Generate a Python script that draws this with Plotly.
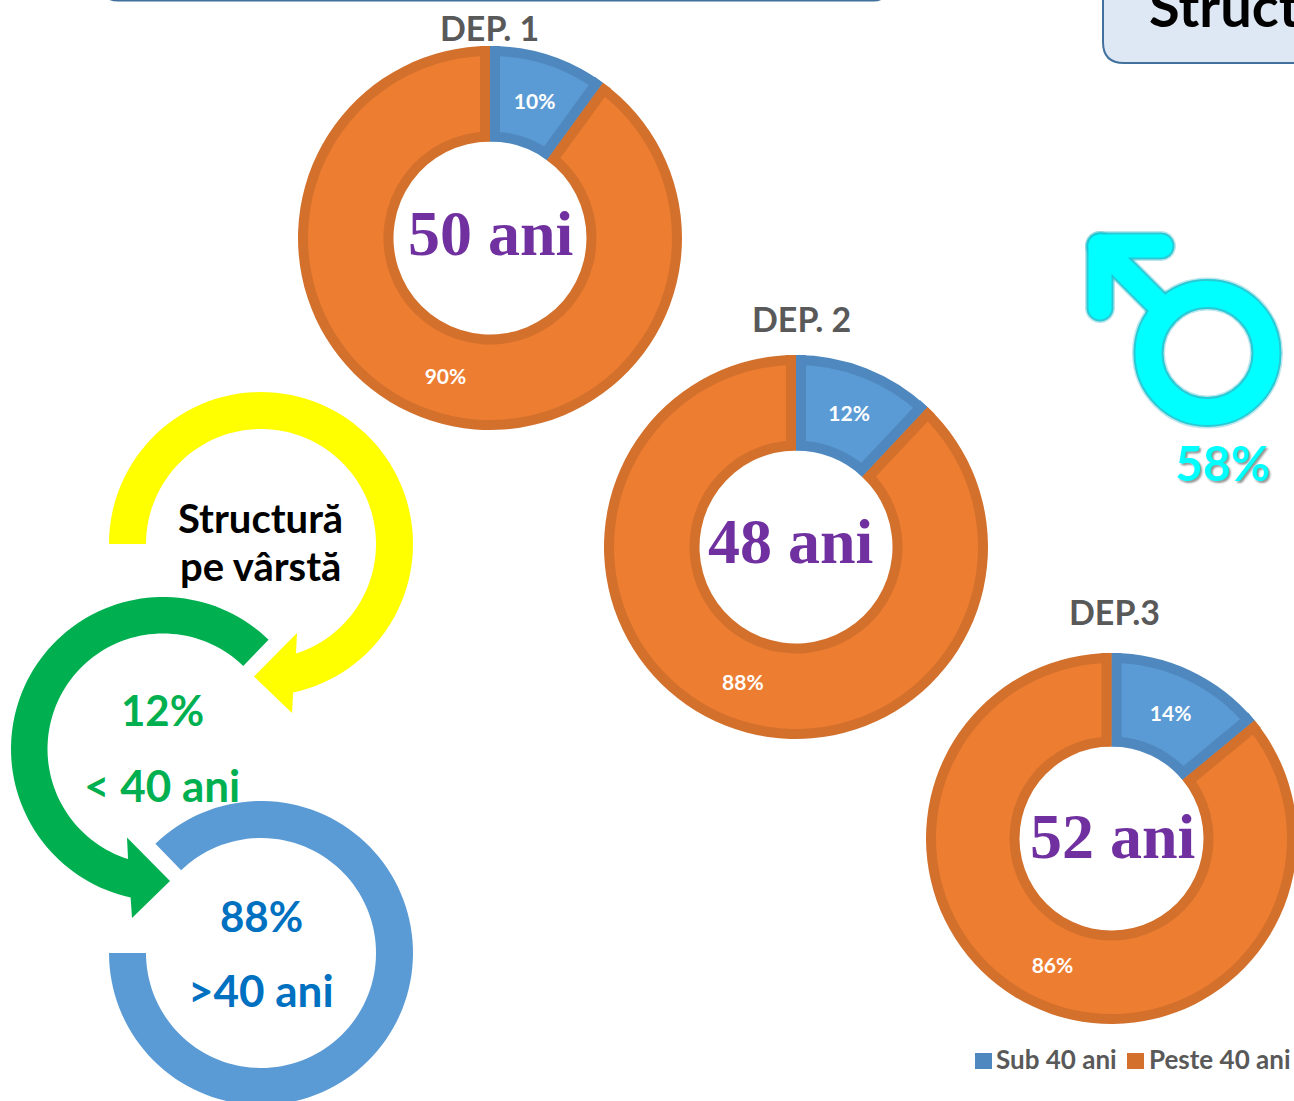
import numpy as np
import plotly.graph_objects as go

# ---------- data ----------
series_names = ["Sub 40 ani", "Peste 40 ani"]
dep_titles = ["DEP. 1", "DEP. 2", "DEP.3"]
dep1_values = [10, 90]
dep2_values = [12, 88]
dep3_values = [14, 86]
mean_ages = ["50 ani", "48 ani", "52 ani"]
age_under_text = ["12%", "< 40 ani"]
age_over_text = ["88%", ">40 ani"]
male_share = "58%"

# ---------- layout helpers (pixels of the page -> paper) ----------
W, H = 1298, 1101
def fx(x): return x / W
def fy(y): return 1 - y / H
def path(points):
    return "M" + "L".join(f"{fx(x):.5f},{fy(y):.5f}" for x, y in points) + "Z"
def polar(cx, cy, r, deg):
    t = np.radians(deg)
    return (cx + r * np.sin(t), cy - r * np.cos(t))
def arc(cx, cy, r, a0, a1, n=90):
    return [polar(cx, cy, r, a) for a in np.linspace(a0, a1, n)]

DARK = ["#4F88BE", "#D2702C"]
LIGHT = ["#5B9BD5", "#ED7D31"]
BORDER = 10
donuts = [
    dict(values=dep1_values, cx=490, cy=238, R=192, r=96.5, title=(489, 27), age=(490, 233.5)),
    dict(values=dep2_values, cx=796, cy=547, R=192, r=96.5, title=(801, 319), age=(790, 542)),
    dict(values=dep3_values, cx=1111.5, cy=838.5, R=185.5, r=92, title=(1114, 611), age=(1112, 836.5)),
]

fig = go.Figure()
shapes, notes = [], []

def text(x, y, s, size, color, family="Lato", bold=True, **font):
    notes.append(dict(x=fx(x), y=fy(y), xref="paper", yref="paper", text=f"<b>{s}</b>" if bold else s,
                      showarrow=False, xanchor="center", yanchor="middle",
                      font=dict(family=family, size=size, color=color, **font)))

for d in donuts:
    cx, cy, R, r = d["cx"], d["cy"], d["R"], d["r"]
    for rad, hole, cols, show in [(R, r / R, DARK, False),
                                  (R - BORDER, (r + BORDER) / (R - BORDER), LIGHT, True)]:
        fig.add_trace(go.Pie(
            labels=series_names, values=d["values"], sort=False, direction="clockwise", rotation=0,
            hole=hole, marker=dict(colors=cols, line=dict(width=0)),
            domain=dict(x=[fx(cx - rad), fx(cx + rad)], y=[fy(cy + rad), fy(cy - rad)]),
            textinfo="percent" if show else "none", textposition="inside",
            insidetextorientation="horizontal",
            insidetextfont=dict(family="Lato", size=21, color="white", weight="bold"),
            showlegend=False, hoverinfo="label+percent"))
    # constant-width inner border along the two radial edges of the slices
    edge = 360 * d["values"][0] / sum(d["values"])
    for a, side_cols in [(0, (DARK[0], DARK[1])), (edge, (DARK[1], DARK[0]))]:
        for sign, col in zip((1, -1), side_cols):
            t = np.radians(a)
            ox, oy = sign * np.cos(t) * BORDER / 2, sign * np.sin(t) * BORDER / 2
            p0 = polar(cx, cy, r, a); p1 = polar(cx, cy, R, a)
            shapes.append(dict(type="line", xref="paper", yref="paper", layer="above",
                               x0=fx(p0[0] + ox), y0=fy(p0[1] + oy), x1=fx(p1[0] + ox), y1=fy(p1[1] + oy),
                               line=dict(color=col, width=BORDER)))

for d, t, age in zip(donuts, dep_titles, mean_ages):
    text(d["title"][0], d["title"][1], t, 34, "#595959")
    text(d["age"][0], d["age"][1], age, 64, "#7030A0", family="Liberation Serif")

# ---------- top boxes ----------
BOX_FILL, BOX_LINE = "#DEE8F5", "#41719C"
shapes.append(dict(type="path", xref="paper", yref="paper", layer="below", fillcolor=BOX_FILL,
                   line=dict(color=BOX_LINE, width=2),
                   path=f"M{fx(1103)},{fy(-10)}L{fx(1103)},{fy(42)}Q{fx(1103)},{fy(63)} {fx(1124)},{fy(63)}L{fx(1320)},{fy(63)}L{fx(1320)},{fy(-10)}Z"))
shapes.append(dict(type="path", xref="paper", yref="paper", layer="below", fillcolor=BOX_FILL,
                   line=dict(color=BOX_LINE, width=2),
                   path=f"M{fx(103)},{fy(-6)}Q{fx(108)},{fy(0.5)} {fx(118)},{fy(0.5)}L{fx(874)},{fy(0.5)}Q{fx(882)},{fy(0.5)} {fx(887)},{fy(-6)}Z"))
text(1224, 6, "Struct", 56, "#000000")

# ---------- circular arrows ----------
def ring_shape(points, color):
    shapes.append(dict(type="path", xref="paper", yref="paper", layer="above", path=path(points),
                       fillcolor=color, line=dict(width=0)))

# yellow
ring_shape(arc(261, 544, 152, -90, 167.8) + [(292, 713), (254, 676.6), (297, 633), (296, 653.6)]
           + arc(261, 544, 115, 162.3, -90), "#FFFF00")
# green
ring_shape(arc(163, 749, 152, 44, -167.7) + [(132, 918), (170, 881), (127, 837.5), (128, 858)]
           + arc(163, 749, 115.5, -162.2, 44), "#00B050")
# blue
ring_shape(arc(261, 953, 152, -44, 270, 120) + arc(261, 953, 115, 270, -44, 120), "#5B9BD5")

text(260, 517.5, "Structură", 40, "#000000")
text(260, 565.5, "pe vârstă", 40, "#000000")
text(162, 710, age_under_text[0], 42, "#00B050")
text(162, 784.5, age_under_text[1], 44, "#00B050")
text(261, 916, age_over_text[0], 42, "#0070C0")
text(261, 990, age_over_text[1], 44, "#0070C0")

# ---------- male symbol ----------
def capsule(p, q, w):
    a = np.degrees(np.arctan2(q[0] - p[0], -(q[1] - p[1])))
    return arc(p[0], p[1], w / 2, a - 270, a - 90, 24) + arc(q[0], q[1], w / 2, a - 90, a + 90, 24)

for grow, col, op in [(3, "#3FB8C8", 0.35), (0, "#19C8D4", 0.9), (-4, "#00FFFF", 1)]:
    shapes.append(dict(type="circle", xref="paper", yref="paper", layer="above", opacity=op,
                       x0=fx(1207.5 - 59), x1=fx(1207.5 + 59), y0=fy(353 + 59), y1=fy(353 - 59),
                       line=dict(color=col, width=30 + grow), fillcolor="rgba(0,0,0,0)"))
    for p, q, w in [((1100, 246), (1161, 246), 27), ((1100, 246), (1100, 308), 27), ((1104, 250), (1165, 311), 27)]:
        shapes.append(dict(type="path", xref="paper", yref="paper", layer="above", opacity=op,
                           path=path(capsule(p, q, w + grow)), fillcolor=col, line=dict(width=0)))
text(1222, 462, male_share, 48, "#00FFFF", shadow="2px 2px 2px #9A9A9A")

# ---------- legend ----------
for (x, name, col, tx) in [(975, series_names[0], DARK[0], 1056.5), (1127, series_names[1], DARK[1], 1220)]:
    shapes.append(dict(type="rect", xref="paper", yref="paper", layer="above",
                       x0=fx(x), x1=fx(x + 17), y0=fy(1069), y1=fy(1053),
                       fillcolor=col, line=dict(width=0)))
    text(tx, 1059, name, 26, "#595959")

fig.update_layout(width=W, height=H, margin=dict(l=0, r=0, t=0, b=0), showlegend=False,
                  paper_bgcolor="white", plot_bgcolor="white", shapes=shapes, annotations=notes)

fig.write_html("out.html", config=dict(displayModeBar=False),
               post_script="document.body.style.margin='0';document.documentElement.style.overflow='hidden';document.body.style.overflow='hidden';")
